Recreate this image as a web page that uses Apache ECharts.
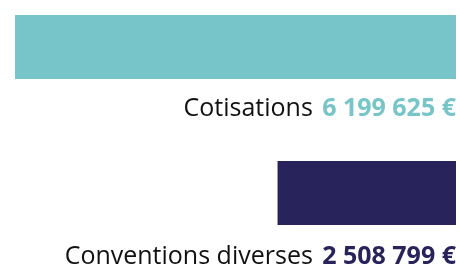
<!DOCTYPE html>
<html>
<head>
<meta charset="utf-8">
<script src="https://cdn.jsdelivr.net/npm/echarts@6/dist/echarts.min.js"></script>
<style>
  html, body { margin: 0; padding: 0; background: #fff; }
  #graph { width: 460px; height: 268px; }
</style>
</head>
<body>
<div id="graph"></div>
<script>
  // catégories et montants, dans l'ordre d'affichage
  var catName = ["Cotisations", "Conventions diverses"];
  var barData = [6199625, 2508799];
  var valueText = ["6 199 625 €", "2 508 799 €"];
  var barColor = ["#77C5C8", "#29235C"];

  var myChart = echarts.init(document.getElementById('graph'));

  var option = {
    animation: false,
    //catégories aux extrémités de la grille
    grid: {
      left: 15,
      right: 4,
      top: 47,
      bottom: 75
    },
    xAxis: {
      type: "value",
      inverse: true,
      min: 0,
      max: barData[0],
      show: false
    },
    yAxis: {
      type: "category",
      data: catName,
      inverse: true,
      boundaryGap: false,
      show: false
    },
    series: [
      {
        type: "bar",
        barWidth: 64,
        data: barData.map(function (v, i) {
          return {
            value: v,
            itemStyle: { color: barColor[i] },
            label: {
              offset: [0, i === 0 ? 30 : 32],
              rich: {
                val: {
                  fontFamily: "Open Sans",
                  fontSize: 25,
                  fontWeight: "bold",
                  color: barColor[i],
                  padding: [0, 0, 0, 6]
                }
              }
            }
          };
        }),
        label: {
          show: true,
          position: ["100%", "100%"],
          align: "right",
          verticalAlign: "middle",
          formatter: function (p) {
            return "{name|" + p.name + "} {val|" + valueText[p.dataIndex] + "}";
          },
          rich: {
            name: {
              fontFamily: "Open Sans",
              fontSize: 25,
              color: "#111111"
            }
          }
        }
      }
    ]
  };
  myChart.setOption(option);
</script>
</body>
</html>
